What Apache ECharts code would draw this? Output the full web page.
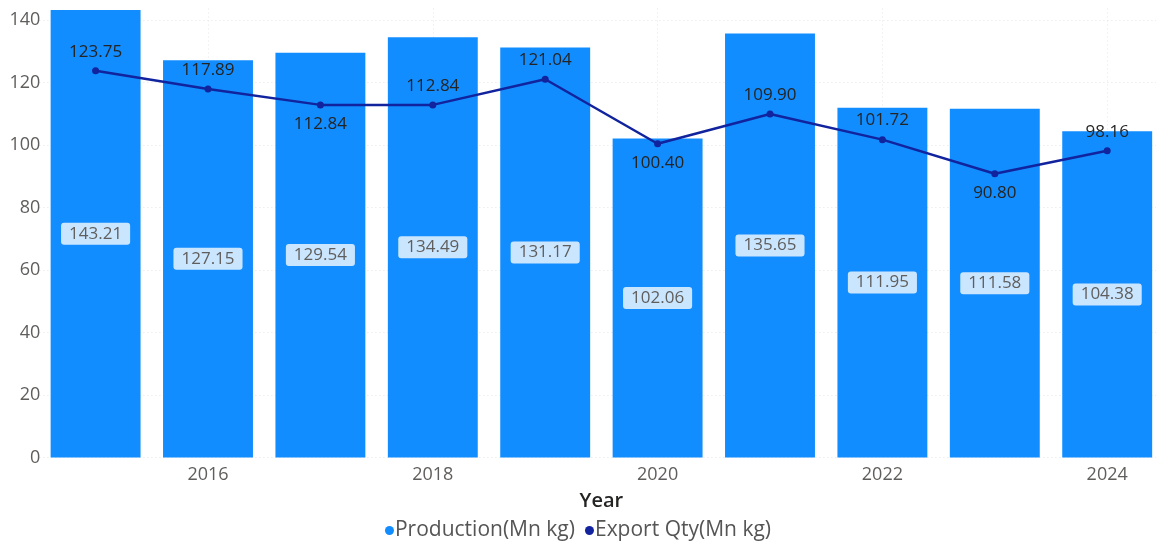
<!DOCTYPE html>
<html><head><meta charset="utf-8">
<script src="https://cdn.jsdelivr.net/npm/echarts@6/dist/echarts.min.js"></script>
<style>html,body{margin:0;padding:0;background:#fff}#c{width:1156px;height:548px}</style>
</head><body><div id="c"></div>
<script>
const years = ['2015','2016','2017','2018','2019','2020','2021','2022','2023','2024'];
const production = [143.21,127.15,129.54,134.49,131.17,102.06,135.65,111.95,111.58,104.38];
const exportQty = [123.75,117.89,112.84,112.84,121.04,100.40,109.90,101.72,90.80,98.16];
const exportLabelPos = ['top','top','bottom','top','top','bottom','top','top','bottom','top'];
const gridYears = ['2016','2018','2020','2022','2024'];

const FONT = '"Segoe UI","Open Sans","Noto Sans",sans-serif';
const chart = echarts.init(document.getElementById('c'));
chart.setOption({
  animation:false,
  textStyle:{fontFamily:FONT},
  grid:{left:39.4,width:1124,top:7.5,bottom:90.5,containLabel:false,outerBoundsMode:'none'},
  legend:{
    top:515,left:'center',itemGap:10,itemWidth:9,itemHeight:9,
    icon:'circle',
    textStyle:{fontFamily:FONT,fontSize:21,color:'#555555',padding:[0,0,0,-4]},
    data:['Production(Mn kg)','Export Qty(Mn kg)']
  },
  xAxis:{
    type:'category',data:years,
    name:'Year',nameLocation:'middle',nameGap:34,
    nameTextStyle:{fontFamily:FONT,fontSize:20,color:'#252423',fontWeight:600},
    axisLine:{show:false},axisTick:{show:false},
    axisLabel:{interval:(i)=>i%2===1,fontSize:18,color:'#605E5C',margin:8,fontFamily:FONT},
    splitLine:{show:false}
  },
  yAxis:{
    type:'value',min:0,max:144,interval:20,
    axisLine:{show:false},axisTick:{show:false},
    axisLabel:{fontSize:18,color:'#605E5C',margin:-1,fontFamily:FONT,
      formatter:(v)=> (v%20===0 ? String(v) : '')},
    splitLine:{show:true,showMaxLine:false,lineStyle:{color:'#e4e4e4',type:[1,3],width:1}}
  },
  series:[
    {
      name:'Production(Mn kg)',type:'bar',data:production,
      barCategoryGap:'20%',
      itemStyle:{color:'#118DFF'},
      label:{show:true,position:'inside',formatter:(p)=>p.value.toFixed(2),
        fontSize:17,color:'#605E5C',fontFamily:FONT,
        backgroundColor:'rgba(255,255,255,0.78)',borderRadius:3,padding:[3,8,2,8]},
      markLine:{
        silent:true,symbol:'none',label:{show:false},z:1,
        lineStyle:{color:'#e6e6e6',type:[1,3],width:1},
        data:gridYears.map(y=>({xAxis:y}))
      },
      z:2
    },
    {
      name:'Export Qty(Mn kg)',type:'line',
      data:exportQty.map((v,i)=>({value:v,label:{position:exportLabelPos[i]}})),
      itemStyle:{color:'#12239E'},
      lineStyle:{color:'#12239E',width:2.5},
      symbol:'circle',symbolSize:7,
      label:{show:true,formatter:(p)=>p.value.toFixed(2),fontSize:17,color:'#252423',
        fontFamily:FONT,distance:7},
      z:5
    }
  ]
});
</script>
</body></html>
